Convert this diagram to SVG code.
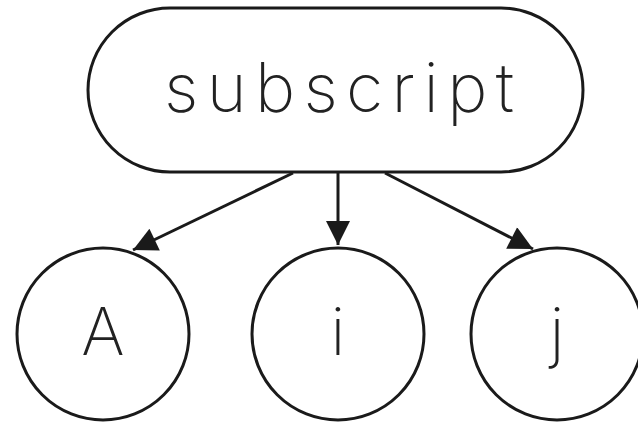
<svg xmlns="http://www.w3.org/2000/svg" width="638" height="423" viewBox="0 0 638 423">
<defs>
<style>
.node{fill:#fff;stroke:#1a1a1a;stroke-width:3}
.lbl{font-family:Inter,"Liberation Mono",monospace;font-weight:200;fill:#222;text-anchor:middle}
.edge{stroke:#1a1a1a;stroke-width:3;fill:none}
</style>
<marker id="ah" viewBox="0 0 10 10" refX="10" refY="5" markerWidth="9" markerHeight="8" markerUnits="strokeWidth" orient="auto">
<path d="M0,0 L10,5 L0,10 z" fill="#1a1a1a"/>
</marker>
</defs>
<rect width="638" height="423" fill="#fff"/>
<g id="n-subscript">
<rect class="node" x="88" y="8" width="495" height="164" rx="82" ry="82"/>
<text class="lbl" x="339" y="112" font-size="68" textLength="350" lengthAdjust="spacing">subscript</text>
</g>
<g id="n-A">
<circle class="node" cx="103" cy="334" r="86"/>
<text class="lbl" x="103" y="355" font-size="66">A</text>
</g>
<g id="n-i">
<circle class="node" cx="338" cy="334" r="86"/>
<text class="lbl" x="338" y="355" font-size="66">i</text>
</g>
<g id="n-j">
<circle class="node" cx="557" cy="334" r="86"/>
<text class="lbl" x="557" y="355" font-size="66">j</text>
</g>
<g id="edges">
<line class="edge" x1="293" y1="173" x2="133" y2="250" marker-end="url(#ah)"/>
<line class="edge" x1="338" y1="173" x2="338" y2="245" marker-end="url(#ah)"/>
<line class="edge" x1="385" y1="173" x2="533" y2="249" marker-end="url(#ah)"/>
</g>
</svg>
